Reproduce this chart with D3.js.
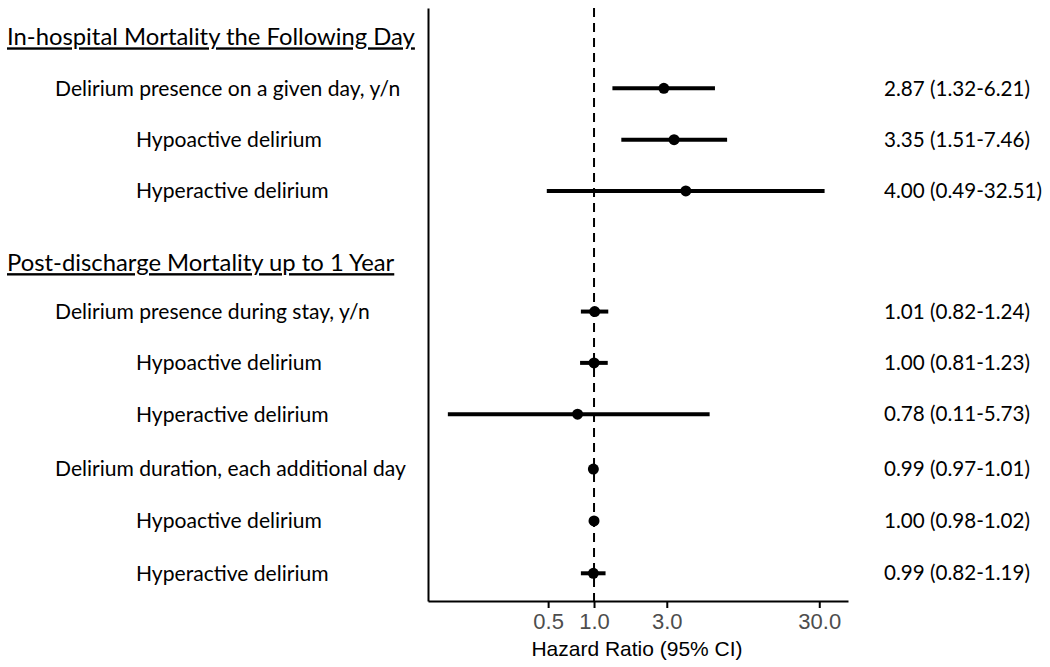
<!DOCTYPE html>
<html>
<head>
<meta charset="utf-8">
<script src="https://cdn.jsdelivr.net/npm/d3@7"></script>
<style>
  body { margin: 0; background: #fff; }
  svg { display: block; }
</style>
</head>
<body>
<div id="chart"></div>
<script>
// rows of the forest plot
const labels = [
    "Delirium presence on a given day, y/n",
    "Hypoactive delirium",
    "Hyperactive delirium",
    "Delirium presence during stay, y/n",
    "Hypoactive delirium",
    "Hyperactive delirium",
    "Delirium duration, each additional day",
    "Hypoactive delirium",
    "Hyperactive delirium"
];
const isSub = [false, true, true, false, true, true, false, true, true];
const hr   = [2.87, 3.35, 4.00, 1.01, 1.00, 0.78, 0.99, 1.00, 0.99];
const lo   = [1.32, 1.51, 0.49, 0.82, 0.81, 0.11, 0.97, 0.98, 0.82];
const hi   = [6.21, 7.46, 32.51, 1.24, 1.23, 5.73, 1.01, 1.02, 1.19];
const rowPos = [1, 2, 3, 5.35, 6.35, 7.35, 8.42, 9.43, 10.45];

const headers = ["In-hospital Mortality the Following Day", "Post-discharge Mortality up to 1 Year"];
const headerPos = [0, 4.4];

const xTicks = [0.5, 1, 3, 30];

const width = 1050, height = 667;

let svg = d3.select("#chart")
    .append("svg")
    .attr("width", width)
    .attr("height", height);

let x = d3.scaleLog()
    .domain([0.0815, 46.3])
    .range([428, 848]);

let y = d3.scaleLinear()
    .domain([-0.565, 10.99])
    .range([8, 601]);

const labelFont = "Lato, 'Noto Sans', sans-serif";
const axisFont = "'Liberation Sans', Arial, sans-serif";

// fit a font size so that a sample string gets the wanted width
function fitSize(sample, target, family) {
    let t = svg.append("text")
        .style("font-family", family)
        .style("font-size", "20px")
        .text(sample);
    let w = t.node().getComputedTextLength();
    t.remove();
    return 20 * target / w;
}

const labelSize = fitSize("Hypoactive delirium", 186, labelFont);
const headerSize = fitSize(headers[0], 408, labelFont);
const valueSize = fitSize("4.00 (0.49-32.51)", 158, labelFont);

// left y axis line
svg.append("g")
    .attr("transform", `translate(${x.range()[0]},0)`)
    .call(d3.axisLeft(y).tickValues([]).tickSizeOuter(0))
    .call(g => g.select(".domain").attr("stroke", "#000").attr("stroke-width", 2));

// bottom axis
let xAxis = d3.axisBottom(x)
    .tickValues(xTicks)
    .tickFormat(d3.format(".1f"))
    .tickSize(7)
    .tickSizeOuter(0)
    .tickPadding(5);

svg.append("g")
    .attr("transform", `translate(0,${y.range()[1]})`)
    .call(xAxis)
    .call(g => g.select(".domain").attr("stroke", "#000").attr("stroke-width", 2))
    .call(g => g.selectAll(".tick line").attr("stroke", "#000").attr("stroke-width", 2))
    .call(g => g.selectAll(".tick text")
        .attr("fill", "#4d4d4d")
        .style("font-family", axisFont)
        .style("font-size", "22px"));

svg.append("text")
    .attr("x", 637)
    .attr("y", 656)
    .attr("text-anchor", "middle")
    .style("font-family", axisFont)
    .style("font-size", "21px")
    .text("Hazard Ratio (95% CI)");

// reference line at HR = 1
svg.append("line")
    .attr("x1", x(1)).attr("x2", x(1))
    .attr("y1", y.range()[0]).attr("y2", y.range()[1])
    .attr("stroke", "#000")
    .attr("stroke-width", 2)
    .attr("stroke-dasharray", "9,6");

// confidence intervals
svg.selectAll(".ci")
    .data(hr)
    .enter().append("line")
    .attr("class", "ci")
    .attr("x1", (d, i) => x(lo[i]))
    .attr("x2", (d, i) => x(hi[i]))
    .attr("y1", (d, i) => y(rowPos[i]))
    .attr("y2", (d, i) => y(rowPos[i]))
    .attr("stroke", "#000")
    .attr("stroke-width", 4);

// point estimates
svg.selectAll(".pt")
    .data(hr)
    .enter().append("circle")
    .attr("class", "pt")
    .attr("cx", d => x(d))
    .attr("cy", (d, i) => y(rowPos[i]))
    .attr("r", 5.5)
    .attr("fill", "#000");

// group headers
svg.selectAll(".header")
    .data(headers)
    .enter().append("text")
    .attr("class", "header")
    .attr("x", 7)
    .attr("y", (d, i) => y(headerPos[i]))
    .attr("dy", "0.35em")
    .style("font-family", labelFont)
    .style("font-size", headerSize + "px")
    .style("text-decoration", "underline")
    .text(d => d);

// row labels
svg.selectAll(".label")
    .data(labels)
    .enter().append("text")
    .attr("class", "label")
    .attr("x", (d, i) => isSub[i] ? 136 : 55)
    .attr("y", (d, i) => y(rowPos[i]))
    .attr("dy", "0.35em")
    .style("font-family", labelFont)
    .style("font-size", labelSize + "px")
    .text(d => d);

// HR (CI) text
svg.selectAll(".value")
    .data(hr)
    .enter().append("text")
    .attr("class", "value")
    .attr("x", 884)
    .attr("y", (d, i) => y(rowPos[i]))
    .attr("dy", "0.35em")
    .style("font-family", labelFont)
    .style("font-size", valueSize + "px")
    .text((d, i) => `${d.toFixed(2)} (${lo[i].toFixed(2)}-${hi[i].toFixed(2)})`);
</script>
</body>
</html>
